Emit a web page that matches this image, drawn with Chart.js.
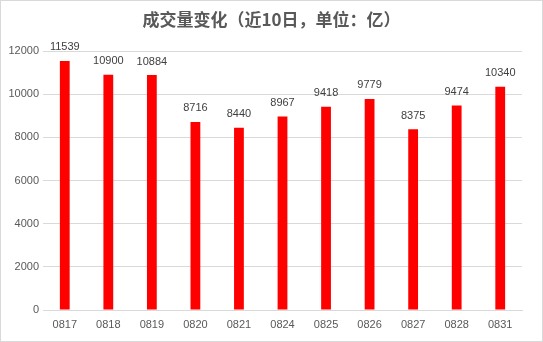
<!DOCTYPE html>
<html>
<head>
<meta charset="utf-8">
<script src="https://cdn.jsdelivr.net/npm/chart.js@4"></script>
<style>
  html, body { margin: 0; padding: 0; background: #fff; }
  canvas { display: block; }
</style>
</head>
<body>
<canvas id="myChart" width="543" height="342"></canvas>
<script>
// datos del grafico
const fechas = ["0817", "0818", "0819", "0820", "0821", "0824", "0825", "0826", "0827", "0828", "0831"];
const volumen = [11539, 10900, 10884, 8716, 8440, 8967, 9418, 9779, 8375, 9474, 10340];
const ticksY = [0, 2000, 4000, 6000, 8000, 10000, 12000];
const titulo = "成交量变化（近10日，单位：亿）";

const fuenteNum = "'Liberation Sans', Arial, sans-serif";

// titulo, etiquetas de valor sobre cada barra y marco exterior
const etiquetasPlugin = {
    id: "etiquetas",
    afterDatasetsDraw(chart) {
        const ctx = chart.ctx;
        const meta = chart.getDatasetMeta(0);
        ctx.save();
        ctx.font = "11px " + fuenteNum;
        ctx.fillStyle = "#404040";
        ctx.textAlign = "center";
        ctx.textBaseline = "bottom";
        meta.data.forEach((bar, i) => {
            ctx.fillText(String(volumen[i]), bar.x, bar.y - 8);
        });
        ctx.restore();
    },
    afterDraw(chart) {
        const ctx = chart.ctx;
        ctx.save();
        ctx.font = "bold 17px 'Noto Sans CJK SC', sans-serif";
        ctx.fillStyle = "#595959";
        ctx.textAlign = "center";
        ctx.textBaseline = "middle";
        ctx.fillText(titulo, chart.width / 2, 20);
        ctx.strokeStyle = "#d9d9d9";
        ctx.lineWidth = 1;
        ctx.strokeRect(0.5, 0.5, chart.width - 1, chart.height - 1);
        ctx.restore();
    }
};

const config = {
    type: "bar",
    data: {
        labels: fechas,
        datasets: [
            {
                label: "成交量",
                data: volumen,
                backgroundColor: "#ff0000",
                borderWidth: 0,
                barPercentage: 0.9,
                categoryPercentage: 0.25
            }
        ]
    },
    options: {
        responsive: false,
        animation: false,
        layout: { padding: { left: 0, right: 21, top: 51, bottom: 0 } },
        plugins: {
            legend: { display: false },
            tooltip: { enabled: false },
            title: { display: false }
        },
        scales: {
            x: {
                grid: { display: false, drawTicks: false },
                border: { display: true, color: "#d9d9d9" },
                ticks: { color: "#595959", font: { family: fuenteNum, size: 11 }, padding: 8, maxRotation: 0 },
                afterFit(scale) { scale.height = 32; }
            },
            y: {
                min: 0,
                max: 12000,
                afterBuildTicks(scale) { scale.ticks = ticksY.map(v => ({ value: v })); },
                grid: { color: "#d9d9d9", drawTicks: false },
                border: { display: false },
                ticks: {
                    color: "#595959",
                    font: { family: fuenteNum, size: 11 },
                    padding: 4,
                    callback: (v) => String(v)
                },
                afterFit(scale) { scale.width = 43; }
            }
        }
    },
    plugins: [etiquetasPlugin]
};

const chart = new Chart(document.getElementById("myChart"), config);
</script>
</body>
</html>
